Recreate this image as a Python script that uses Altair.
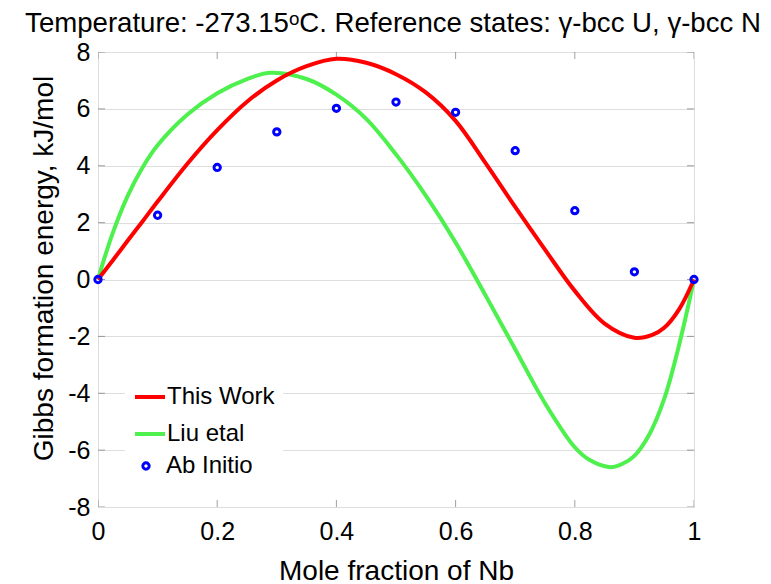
import altair as alt
import pandas as pd

# ---- data ----
x_this = [0, 0.025, 0.05, 0.075, 0.1, 0.15, 0.2, 0.25, 0.3, 0.35, 0.4, 0.45, 0.5,
          0.55, 0.6, 0.65, 0.7, 0.75, 0.8, 0.85, 0.9, 0.93, 0.95, 0.975, 1.0]
g_this = [0, 0.68, 1.37, 2.05, 2.74, 4.07, 5.25, 6.25, 7.0, 7.5, 7.76, 7.62, 7.22,
          6.58, 5.58, 4.1, 2.55, 1.05, -0.4, -1.55, -2.05, -1.95, -1.7, -1.05, 0]

x_liu = [0, 0.01, 0.025, 0.05, 0.075, 0.1, 0.15, 0.2, 0.25, 0.29, 0.35, 0.4, 0.45,
         0.5, 0.55, 0.6, 0.65, 0.7, 0.75, 0.8, 0.825, 0.86, 0.88, 0.9, 0.925, 0.95,
         0.975, 1.0]
g_liu = [0, 0.7, 1.65, 2.95, 3.95, 4.72, 5.8, 6.55, 7.05, 7.27, 7.05, 6.5, 5.65,
         4.4, 2.95, 1.3, -0.55, -2.45, -4.35, -5.9, -6.35, -6.6, -6.48, -6.2, -5.45,
         -4.2, -2.3, 0]

x_ab = [0, 0.1, 0.2, 0.3, 0.4, 0.5, 0.6, 0.7, 0.8, 0.9, 1.0]
g_ab = [0, 2.26, 3.94, 5.19, 6.02, 6.24, 5.88, 4.53, 2.42, 0.27, 0]

x_ticks = [0, 0.2, 0.4, 0.6, 0.8, 1]
y_ticks = [-8, -6, -4, -2, 0, 2, 4, 6, 8]

series_names = ["This Work", "Liu etal"]
point_name = "Ab Initio"
line_colors = ["#FF0000", "#4DF04D"]
point_color = "#0000FF"

title_text = "Temperature: -273.15\u1d52C. Reference states: \u03b3-bcc U, \u03b3-bcc N"
x_title = "Mole fraction of Nb"
y_title = "Gibbs formation energy, kJ/mol"

FONT = "Liberation Sans, Arial, Helvetica, DejaVu Sans"

this_df = pd.DataFrame({"x": x_this, "g": g_this, "series": series_names[0]})
liu_df = pd.DataFrame({"x": x_liu, "g": g_liu, "series": series_names[1]})
ab_df = pd.DataFrame({"x": x_ab, "g": g_ab, "source": point_name})
xt_df = pd.DataFrame({"x": x_ticks})
yt_df = pd.DataFrame({"g": y_ticks})

xscale = alt.Scale(domain=[0, 1], nice=False, zero=False)
yscale = alt.Scale(domain=[-8, 8], nice=False, zero=False)

X = alt.X("x:Q", scale=xscale, title=x_title,
          axis=alt.Axis(values=x_ticks, labelExpr="'' + datum.value", grid=False,
                        domain=False, ticks=False, labelFlush=False,
                        labelPadding=12, labelFontSize=25, titleFontSize=28,
                        titleFontWeight="normal",
                        titleX=298, titleY=72, titleBaseline="alphabetic"))
Y = alt.Y("g:Q", scale=yscale, title=y_title,
          axis=alt.Axis(values=y_ticks, labelExpr="'' + datum.value", grid=True,
                        domain=False, ticks=False, labelFlush=False,
                        labelPadding=8, labelFontSize=25, titleFontSize=28,
                        titleFontWeight="normal",
                        titleAngle=270, titleX=-46, titleY=216, titleBaseline="alphabetic",
                        titleAlign="center"))

color = alt.Color("series:N",
                  scale=alt.Scale(domain=series_names, range=line_colors),
                  legend=alt.Legend(title=None, orient="none", legendX=27, legendY=320,
                                    symbolType="stroke", symbolSize=900, symbolStrokeWidth=4,
                                    labelFontSize=24, labelFont=FONT, labelColor="black",
                                    fillColor="white", padding=8, rowPadding=8,
                                    labelOffset=0))

green = alt.Chart(liu_df).mark_line(strokeWidth=4, interpolate="catmull-rom").encode(
    x=X, y=Y, color=color)
red = alt.Chart(this_df).mark_line(strokeWidth=4, interpolate="catmull-rom").encode(
    x=X, y=Y, color=color)

pts = alt.Chart(ab_df).mark_point(filled=False, size=40, strokeWidth=3,
                                   color=point_color, opacity=1).encode(
    x=X, y=Y,
    shape=alt.Shape("source:N", scale=alt.Scale(domain=[point_name], range=["circle"]),
                    legend=alt.Legend(title=None, orient="none", legendX=32, legendY=398,
                                      symbolSize=40, symbolStrokeWidth=3,
                                      symbolStrokeColor=point_color, symbolFillColor="white",
                                      labelFontSize=24, labelFont=FONT, labelColor="black",
                                      fillColor="white", padding=4, labelOffset=8)))

tick_color = "#777777"
left_ticks = alt.Chart(yt_df).mark_tick(orient="horizontal", size=14, thickness=1,
                                        color=tick_color, clip=True).encode(
    x=alt.datum(0, scale=xscale), y=alt.Y("g:Q", scale=yscale, title=y_title))
right_ticks = alt.Chart(yt_df).mark_tick(orient="horizontal", size=14, thickness=1,
                                         color=tick_color, clip=True).encode(
    x=alt.datum(1, scale=xscale), y=alt.Y("g:Q", scale=yscale, title=y_title))
bottom_ticks = alt.Chart(xt_df).mark_tick(orient="vertical", size=14, thickness=1,
                                          color=tick_color, clip=True).encode(
    x=alt.X("x:Q", scale=xscale, title=x_title), y=alt.datum(-8, scale=yscale))
top_ticks = alt.Chart(xt_df).mark_tick(orient="vertical", size=14, thickness=1,
                                       color=tick_color, clip=True).encode(
    x=alt.X("x:Q", scale=xscale, title=x_title), y=alt.datum(8, scale=yscale))

chart = alt.layer(
    left_ticks, right_ticks, bottom_ticks, top_ticks, green, red, pts
).resolve_scale(color="independent", shape="independent").properties(
    width=596, height=455,
    autosize=alt.AutoSizeParams(type="none"),
    padding={"left": 98, "top": 52, "right": 77, "bottom": 77},
    title=alt.TitleParams(title_text, fontSize=27.6, font=FONT, fontWeight="normal",
                          color="black", anchor="middle", dx=-3, offset=19, dy=39,
                          baseline="alphabetic"),
).configure_view(
    stroke=tick_color, strokeWidth=1
).configure_axis(
    labelFont=FONT, titleFont=FONT, labelColor="#262626", titleColor="#111111",
    titleFontWeight="normal", gridColor="#E3E3E3", gridWidth=1
).configure(background="white")

chart.save("out.html", embed_options={"renderer": "svg", "actions": False})
